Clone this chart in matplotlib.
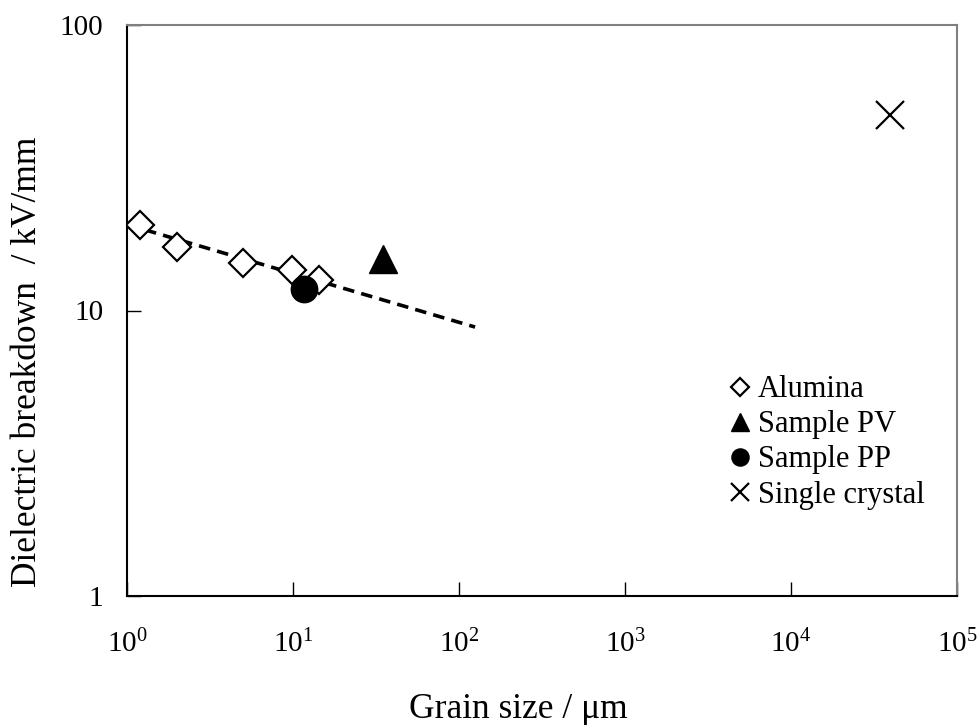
import matplotlib
matplotlib.use("Agg")
import matplotlib.pyplot as plt
from matplotlib.ticker import FixedLocator, NullLocator

plt.rcParams['font.family'] = ['Liberation Serif', 'DejaVu Serif']
plt.rcParams['mathtext.fontset'] = 'custom'
plt.rcParams['mathtext.rm'] = 'Liberation Serif'

alumina_x = [1.2, 2.0, 5.0, 9.9, 14.3]
alumina_y = [19.9, 16.7, 14.7, 13.9, 12.8]
pv_x = [34.8]
pv_y = [15.2]
pp_x = [11.6]
pp_y = [11.9]
single_x = [39500]
single_y = [48.2]
fit_x = [1.0, 125.0]
fit_y = [20.0, 8.75]

xticks = [1, 10, 100, 1000, 10000, 100000]
xtick_labels = [r'$\mathregular{10^{0}}$', r'$\mathregular{10^{1}}$', r'$\mathregular{10^{2}}$',
                r'$\mathregular{10^{3}}$', r'$\mathregular{10^{4}}$', r'$\mathregular{10^{5}}$']
yticks = [1, 10, 100]
ytick_labels = ['1', '10', '100']

W, H = 979, 725
fig = plt.figure(figsize=(W/100, H/100), dpi=100)
ax = fig.add_axes([127/W, 1-596/H, (957-127)/W, (596-25)/H])
ax.set_xscale('log')
ax.set_yscale('log')
ax.set_xlim(1, 1e5)
ax.set_ylim(1, 100)

ax.plot(fit_x, fit_y, linestyle=(0, (3.2, 2)), color='black', lw=2.6, zorder=2)
ax.plot(alumina_x, alumina_y, linestyle='none', marker='D', ms=14.5, mfc='white',
        mec='black', mew=1.6, label='Alumina', zorder=3)
ax.plot(pv_x, pv_y, linestyle='none', marker='^', ms=20, color='black',
        label='Sample PV', zorder=3)
ax.plot(pp_x, pp_y, linestyle='none', marker='o', ms=19, color='black',
        label='Sample PP', zorder=4)
ax.plot(single_x, single_y, linestyle='none', marker='x', ms=20, mew=1.6,
        color='black', label='Single crystal', zorder=3)

ax.xaxis.set_major_locator(FixedLocator(xticks))
ax.xaxis.set_minor_locator(NullLocator())
ax.yaxis.set_major_locator(FixedLocator(yticks))
ax.yaxis.set_minor_locator(NullLocator())
ax.set_xticklabels(xtick_labels)
ax.set_yticklabels(ytick_labels)
ax.tick_params(axis='both', direction='in', length=10, width=1, labelsize=21)
ax.tick_params(axis='x', pad=24)
ax.tick_params(axis='y', pad=17)

ax.spines['left'].set_color('black')
ax.spines['bottom'].set_color('black')
ax.spines['top'].set_color('#808080')
ax.spines['right'].set_color('#808080')
for s in ax.spines.values():
    s.set_linewidth(1.5)

fig.text(518/W, 1-718/H, 'Grain size / μm', fontsize=25.5, ha='center', va='baseline')
fig.text(28/W, 1-362/H, 'Dielectric breakdown  / kV/mm', fontsize=25.5,
         ha='center', va='center', rotation=90)

leg = ax.legend(loc='lower left', bbox_to_anchor=(0.709, 0.13), frameon=False,
                fontsize=22, handlelength=0.8, handletextpad=0.2,
                labelspacing=0.2, borderaxespad=0, markerscale=0.65)

fig.savefig('out.png', dpi=100)
